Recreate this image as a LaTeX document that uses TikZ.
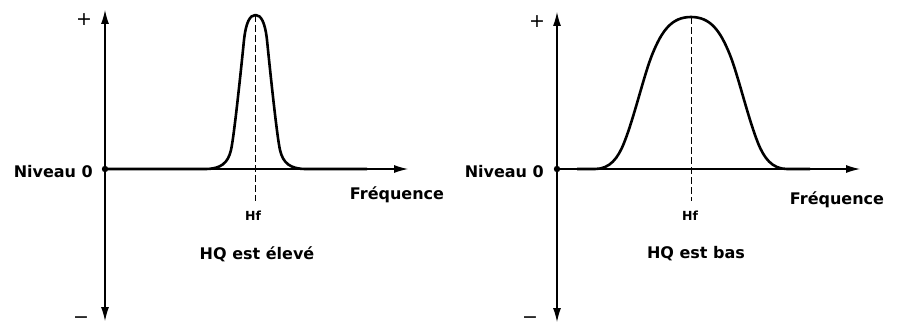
\documentclass[tikz,border=0pt]{standalone}
\usepackage{fontspec}
\setmainfont{DejaVu Sans}
\usetikzlibrary{arrows.meta}

\tikzset{
  axisline/.style={line width=1.1pt},
  bothtips/.style={{Latex[length=14pt,width=8pt]}-{Latex[length=14pt,width=8pt]}},
  endtip/.style={-{Latex[length=14pt,width=8pt]}},
  response/.style={line width=2.6pt,line join=round},
  hfline/.style={line width=0.9pt,dash pattern=on 7pt off 3pt},
  biglab/.style={font=\fontsize{16}{19}\selectfont\bfseries,inner sep=0pt},
  signlab/.style={font=\fontsize{19}{22}\selectfont,inner sep=0pt},
  smalllab/.style={font=\fontsize{12.5}{15}\selectfont\bfseries,inner sep=0pt}
}

\begin{document}
\begin{tikzpicture}[x=1pt,y=-1pt]
\useasboundingbox (0,0) rectangle (901,329);
% left graph: HQ high
\coordinate (oA) at (105,169);
\coordinate (topA) at (105,10);
\coordinate (botA) at (105,321);
\coordinate (endA) at (408,169);
\coordinate (peakA) at (255.5,15);
\coordinate (footA) at (255.5,201);
\draw[axisline,bothtips] (botA) -- (topA);
\draw[axisline,endtip] (oA) -- (endA);
\draw[response] (oA) -- (205,169)
  .. controls (221,169) and (228,163) .. (231,150)
  .. controls (234,137) and (241,70) .. (244,40)
  .. controls (246,22) and (250,15) .. (peakA)
  .. controls (261,15) and (265,22) .. (267,40)
  .. controls (270,70) and (277,137) .. (280,150)
  .. controls (283,163) and (290,169) .. (306,169) -- (367,169);
\draw[hfline] (peakA) -- (footA);
\fill (oA) circle (3.2);
\node[biglab,anchor=base east] (nivA) at (93,177) {Niveau 0};
\node[signlab] (plusA) at (84,20) {+};
\node[signlab] (minusA) at (81,320) {−};
\node[biglab,anchor=base] (freqA) at (397,199) {Fréquence};
\node[smalllab,anchor=base] (hfA) at (253,220) {Hf};
\node[biglab,anchor=base] (capA) at (257,259) {HQ est élevé};

% right graph: HQ low
\coordinate (oB) at (557,169);
\coordinate (topB) at (557,12);
\coordinate (botB) at (557,322);
\coordinate (endB) at (860,169);
\coordinate (peakB) at (691,17);
\coordinate (footB) at (691,201);
\draw[axisline,bothtips] (botB) -- (topB);
\draw[axisline,endtip] (oB) -- (endB);
\draw[response] (577,169) -- (595,169)
  .. controls (610,169) and (618,158) .. (624,143)
  .. controls (634,118) and (644,75) .. (652,55)
  .. controls (662,30) and (672,17) .. (peakB)
  .. controls (710,17) and (720,30) .. (730,55)
  .. controls (738,75) and (748,118) .. (758,143)
  .. controls (764,158) and (772,169) .. (787,169) -- (810,169);
\draw[hfline] (peakB) -- (footB);
\fill (oB) circle (3.2);
\node[biglab,anchor=base east] (nivB) at (544,177) {Niveau 0};
\node[signlab] (plusB) at (537,22) {+};
\node[signlab] (minusB) at (530,320) {−};
\node[biglab,anchor=base] (freqB) at (837,204) {Fréquence};
\node[smalllab,anchor=base] (hfB) at (690,220) {Hf};
\node[biglab,anchor=base] (capB) at (696,258) {HQ est bas};
\end{tikzpicture}
\end{document}
